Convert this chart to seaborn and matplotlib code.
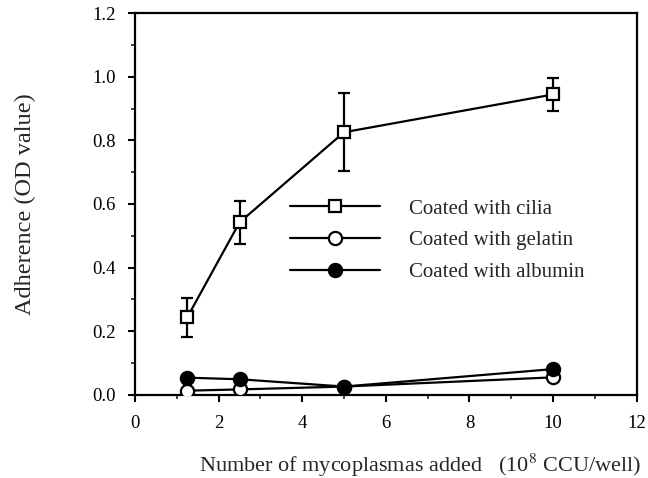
import matplotlib
matplotlib.use("Agg")
import matplotlib.pyplot as plt
import seaborn as sns
import numpy as np
import pandas as pd

# Data
x_vals = [1.25, 2.5, 5, 10]
cilia = [0.243, 0.542, 0.826, 0.945]
cilia_err = [0.061, 0.067, 0.123, 0.051]
gelatin = [0.012, 0.016, 0.025, 0.054]
albumin = [0.053, 0.048, 0.025, 0.080]
labels = ["Coated with cilia", "Coated with gelatin", "Coated with albumin"]
x_ticks = [0, 2, 4, 6, 8, 10, 12]
y_ticks = [0.0, 0.2, 0.4, 0.6, 0.8, 1.0, 1.2]

sns.set_style("ticks")
plt.rcParams["font.family"] = ["Liberation Serif", "DejaVu Serif"]
plt.rcParams["mathtext.fontset"] = "stix"

fig = plt.figure(figsize=(6.48, 4.78), dpi=100)
ax = fig.add_axes([135 / 648, 1 - 394.5 / 478, (636.7 - 135) / 648, (394.5 - 13.5) / 478])

df = pd.DataFrame({"x": x_vals, "cilia": cilia, "gelatin": gelatin, "albumin": albumin})

lw = 1.6
ms = 9
# error bars for cilia
ax.errorbar(x_vals, cilia, yerr=cilia_err, fmt="none", ecolor="black",
            elinewidth=lw, capsize=4, capthick=lw, zorder=2)
sns.lineplot(data=df, x="x", y="cilia", ax=ax, color="black", lw=lw, marker="s",
             markersize=ms, markerfacecolor="white", markeredgecolor="black",
             markeredgewidth=1.6, label=labels[0], zorder=3)
sns.lineplot(data=df, x="x", y="gelatin", ax=ax, color="black", lw=lw, marker="o",
             markersize=ms + 0.5, markerfacecolor="white", markeredgecolor="black",
             markeredgewidth=1.6, label=labels[1], zorder=3)
sns.lineplot(data=df, x="x", y="albumin", ax=ax, color="black", lw=lw, marker="o",
             markersize=ms + 0.5, markerfacecolor="black", markeredgecolor="black",
             markeredgewidth=1.6, label=labels[2], zorder=4)

ax.set_xlim(0, 12)
ax.set_ylim(0, 1.2)
ax.set_xticks(x_ticks)
ax.set_xticklabels([str(t) for t in x_ticks])
ax.set_yticks(y_ticks)
ax.set_yticklabels([f"{t:.1f}" for t in y_ticks])
ax.set_xticks(np.arange(1, 12, 2), minor=True)
ax.set_yticks(np.arange(0.1, 1.2, 0.2), minor=True)
ax.tick_params(axis="both", which="major", direction="out", length=5, width=1.5,
               labelsize=13.5, colors="black")
ax.tick_params(axis="x", which="major", pad=10)
ax.tick_params(axis="y", which="major", pad=9)
ax.tick_params(axis="both", which="minor", direction="out", length=3, width=1.2)
for s in ax.spines.values():
    s.set_linewidth(1.6)
    s.set_color("black")

ax.set_xlabel("Number of mycoplasmas added   (10$^{8}$ CCU/well)", fontsize=16)
ax.xaxis.set_label_coords((420 - 135) / 501.7, (394.5 - 452) / 381)
ax.set_ylabel("Adherence (OD value)", fontsize=17.5)
ax.yaxis.set_label_coords((36 - 135) / 501.7, 0.5)

leg = ax.legend(loc="upper left", bbox_to_anchor=((290 - 135) / 501.7, (394.5 - 199) / 381),
                frameon=False, fontsize=15, handlelength=4.3, handletextpad=1.4,
                labelspacing=0.58, borderpad=0, borderaxespad=0)

fig.savefig("out.png", dpi=100)
